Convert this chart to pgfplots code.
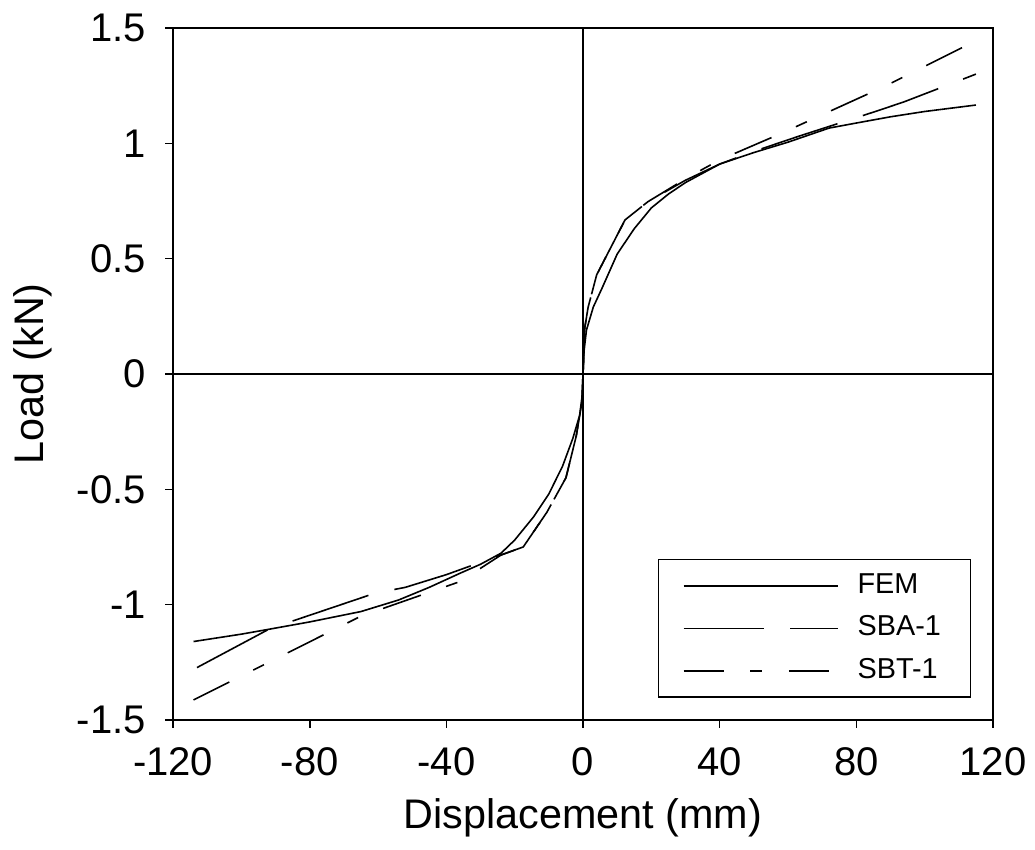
\documentclass[border=0pt]{standalone}
\usepackage{fontspec}
\setmainfont{Liberation Sans}
\usepackage{pgfplots}
\pgfplotsset{compat=1.18}

\begin{document}
\fontsize{15}{18}\selectfont
\begin{tikzpicture}
\begin{axis}[
  scale only axis,
  width=307.5pt, height=259.5pt,
  xmin=-120, xmax=120, ymin=-1.5, ymax=1.5,
  xtick={-120,-80,...,120}, ytick={-1.5,-1,...,1.5},
  xtick pos=bottom, ytick pos=left, tick align=outside,
  major tick length=3pt,
  axis line style={line width=0.75pt}, every tick/.style={black,line width=0.6pt},
  /pgf/number format/assume math mode=true,
  tick label style={font=\fontsize{15}{18}\selectfont},
  label style={font=\fontsize{15.5}{18}\selectfont},
  xticklabel style={yshift=-2pt}, yticklabel style={xshift=-2pt},
  xlabel={Displacement (mm)}, ylabel={Load (kN)},
  xlabel style={yshift=1.5pt},
  ylabel style={yshift=-1pt},
  legend style={at={(rel axis cs:0.973,0.032)}, anchor=south east, draw=black,
    line width=0.5pt, font=\fontsize{10.8}{13}\selectfont,
    inner xsep=9pt, inner ysep=2.5pt, row sep=1.5pt,
    nodes={text height=8pt, text depth=2.5pt, inner sep=2pt}},
  legend cell align=left,
  legend image code/.code={\draw[#1] (0pt,0pt) -- (58pt,0pt); \path (63pt,0pt);},
]
\addplot[black, line width=0.5pt, forget plot] coordinates {(-120,0) (120,0)};
\addplot[black, line width=0.5pt, forget plot] coordinates {(0,-1.5) (0,1.5)};

\addplot[black, line width=0.6pt] coordinates {
(-114,-1.16) (-100,-1.128) (-92,-1.107) (-80,-1.075) (-65,-1.03) (-54,-0.98)
(-45,-0.925) (-36,-0.864) (-30,-0.825) (-24,-0.777) (-20,-0.72) (-14.5,-0.62)
(-10,-0.52) (-6,-0.40) (-3,-0.28) (-1,-0.18) (-0.3,-0.1) (0,0) (0.3,0.1)
(1,0.19) (3,0.29) (5.5,0.37) (10,0.52) (15,0.63) (20,0.72) (25,0.78) (30,0.83)
(40,0.91) (50,0.96) (60,1.005) (72,1.066) (80,1.088) (90,1.115) (100,1.138) (115,1.166)};
\addlegendentry{FEM}

\addplot[black, line width=0.6pt, dash pattern=on 30pt off 10pt] coordinates {
(-113,-1.273) (-92,-1.107) (-84,-1.066) (-61,-0.951) (-52,-0.925) (-40,-0.87)
(-25,-0.79) (-17.5,-0.75) (-10.6,-0.60) (-5,-0.45) (-2,-0.27) (-0.4,-0.13) (0,0)
(0.5,0.2) (1.5,0.29) (4,0.43) (12.3,0.668) (19,0.747) (30,0.84) (40,0.91)
(50,0.965) (63,1.03) (86,1.14) (94,1.18) (115,1.30)};
\addlegendentry{SBA-1}

\addplot[black, line width=0.6pt, dash pattern=on 15pt off 10pt on 4.5pt off 10pt] coordinates {
(-114,-1.413) (-65,-1.05) (-36,-0.90) (-24,-0.785) (-17.5,-0.75) (-10.6,-0.60)
(-5,-0.45) (-2,-0.27) (-0.4,-0.13) (0,0) (0.5,0.2) (1.5,0.29) (4,0.43)
(12.3,0.668) (19,0.747) (31,0.855) (40,0.928) (58,1.043) (88,1.245) (115,1.445)};
\addlegendentry{SBT-1}
\end{axis}
\pgfresetboundingbox
\path ([shift={(-64.9pt,-48.4pt)}]current axis.south west) rectangle ([shift={(15.75pt,10.5pt)}]current axis.north east);
\end{tikzpicture}
\end{document}
